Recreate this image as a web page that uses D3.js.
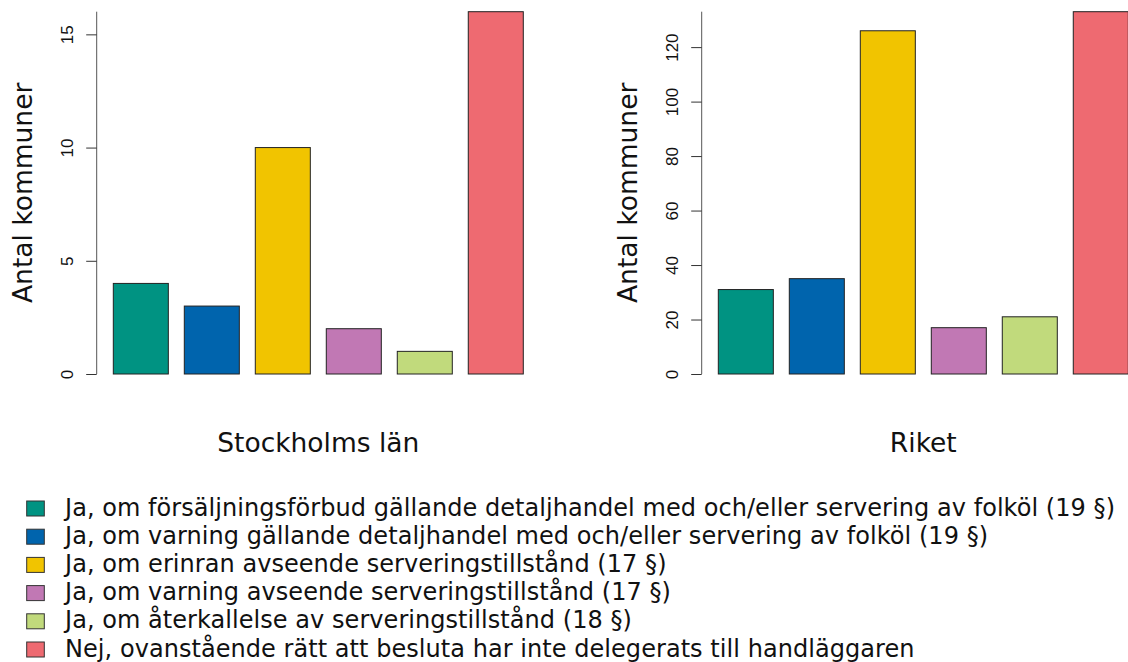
<!DOCTYPE html>
<html>
<head>
<meta charset="utf-8">
<script src="https://cdn.jsdelivr.net/npm/d3@7"></script>
<style>
  html, body { margin: 0; padding: 0; background: #fff; overflow: hidden; }
  svg { display: block; }
</style>
</head>
<body>
<svg id="chart" width="1128" height="662"></svg>
<script>
// ---- Data ----
const categories = [
  "Ja, om försäljningsförbud gällande detaljhandel med och/eller servering av folköl (19 §)",
  "Ja, om varning gällande detaljhandel med och/eller servering av folköl (19 §)",
  "Ja, om erinran avseende serveringstillstånd (17 §)",
  "Ja, om varning avseende serveringstillstånd (17 §)",
  "Ja, om återkallelse av serveringstillstånd (18 §)",
  "Nej, ovanstående rätt att besluta har inte delegerats till handläggaren"
];
const colors = ["#009382", "#0064AD", "#F1C400", "#C178B4", "#C1DA7C", "#EE6A71"];
const stockholmValues = [4, 3, 10, 2, 1, 16];
const riketValues = [31, 35, 126, 17, 21, 133];
const stockholmTicks = [0, 5, 10, 15];
const riketTicks = [0, 20, 40, 60, 80, 100, 120];
const panelTitles = ["Stockholms län", "Riket"];
const yTitle = "Antal kommuner";

const svg = d3.select("#chart");
const mainFont = "'DejaVu Sans', Verdana, sans-serif";
const tickFont = "'Liberation Sans', Arial, sans-serif";

const panels = [
  { values: stockholmValues, ticks: stockholmTicks, max: 16, x0: 96.7, title: panelTitles[0] },
  { values: riketValues, ticks: riketTicks, max: 133, x0: 701.7, title: panelTitles[1] }
];

const yBottom = 374, yTop = 11.7, plotW = 443.2;

panels.forEach(p => {
  const g = svg.append("g");
  const x = d3.scaleBand().domain(d3.range(p.values.length))
    .range([p.x0, p.x0 + plotW]).paddingInner(0.225).paddingOuter(0.234);
  const y = d3.scaleLinear().domain([0, p.max]).range([yBottom, yTop]);

  // bars
  g.selectAll("rect.bar").data(p.values).join("rect")
    .attr("class", "bar")
    .attr("x", (d, i) => x(i))
    .attr("y", d => y(d))
    .attr("width", x.bandwidth())
    .attr("height", d => y(0) - y(d))
    .attr("fill", (d, i) => colors[i])
    .attr("stroke", "#222")
    .attr("stroke-width", 1);

  // y axis
  const axis = d3.axisLeft(y).tickValues(p.ticks).tickSize(10.5).tickPadding(0).tickFormat(d3.format("d"));
  const ag = g.append("g").attr("transform", `translate(${p.x0},0)`).call(axis);
  ag.select(".domain").attr("d", `M0,${yBottom}V${yTop}`).attr("stroke", "#555");
  ag.selectAll(".tick line").attr("stroke", "#333");
  ag.selectAll(".tick text")
    .attr("x", null).attr("dy", null)
    .attr("transform", "translate(-24,0) rotate(-90)")
    .attr("text-anchor", "middle")
    .attr("font-family", tickFont)
    .attr("font-size", 17)
    .attr("fill", "#111");

  // y title
  g.append("text")
    .attr("transform", `translate(${p.x0 - 64.4},${(yBottom + yTop) / 2}) rotate(-90)`)
    .attr("text-anchor", "middle")
    .attr("font-family", mainFont)
    .attr("font-size", 26.5)
    .attr("fill", "#111")
    .text(yTitle);

  // x title
  g.append("text")
    .attr("x", p.x0 + plotW / 2)
    .attr("y", 451.7)
    .attr("text-anchor", "middle")
    .attr("font-family", mainFont)
    .attr("font-size", 26.5)
    .attr("fill", "#111")
    .text(p.title);
});

// legend
const lg = svg.append("g");
const rowY = d3.scalePoint().domain(d3.range(categories.length)).range([508.5, 649.5]);
const rows = lg.selectAll("g.row").data(categories).join("g")
  .attr("class", "row")
  .attr("transform", (d, i) => `translate(0,${rowY(i)})`);
rows.append("rect")
  .attr("x", 26.7).attr("y", -7.5)
  .attr("width", 17.6).attr("height", 15)
  .attr("fill", (d, i) => colors[i])
  .attr("stroke", "#333").attr("stroke-width", 1);
rows.append("text")
  .attr("x", 65).attr("y", 7)
  .attr("font-family", mainFont)
  .attr("font-size", 24)
  .attr("letter-spacing", 0.05)
  .attr("fill", "#111")
  .text(d => d);
</script>
</body>
</html>
